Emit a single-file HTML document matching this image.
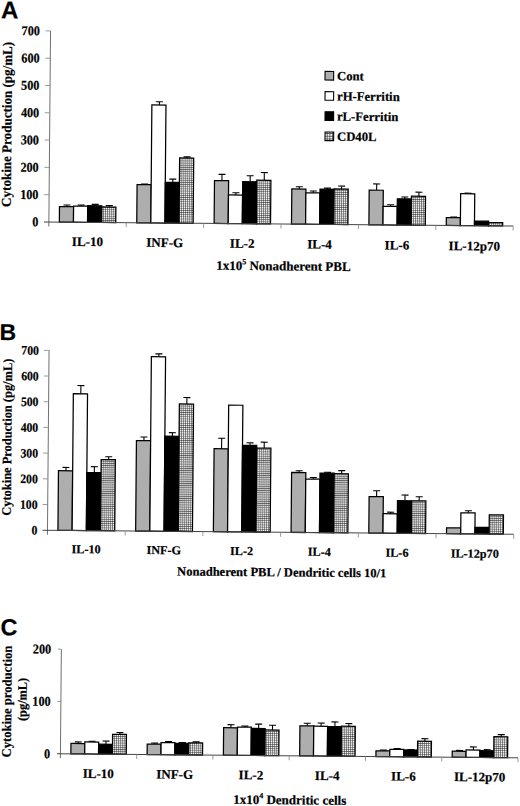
<!DOCTYPE html>
<html><head><meta charset="utf-8"><style>
html,body{margin:0;padding:0;background:#fff}
svg{display:block}
text{font-family:"Liberation Serif",serif;font-weight:bold;fill:#000;stroke:#000;stroke-width:0.2px}
.pl{font-family:"Liberation Sans",sans-serif;font-weight:bold}
</style></head><body>
<svg width="520" height="806" viewBox="0 0 520 806">
<defs><pattern id="hatch" width="1.95" height="2.15" patternUnits="userSpaceOnUse"><rect width="1.95" height="2.15" fill="#f6f6f6"/><path d="M0 0.3H1.95M0.3 0V2.15" stroke="#222" stroke-width="0.55"/></pattern><pattern id="hatchL" x="0.4" y="0.2" width="2.7" height="2.7" patternUnits="userSpaceOnUse"><rect width="2.7" height="2.7" fill="#fafafa"/><path d="M0 0.4H2.7M0.4 0V2.7" stroke="#222" stroke-width="0.7"/></pattern></defs>
<rect width="520" height="806" fill="#fff"/>
<g transform="rotate(0.5 260 403)">
<path d="M65.24 208.29V206.65M61.74 206.65H68.74" stroke="#000" stroke-width="1.1" fill="none"/>
<rect x="57.79" y="208.29" width="14.10" height="15.56" fill="#aeaeae" stroke="#000" stroke-width="1.25"/>
<path d="M79.34 207.74V206.65M75.84 206.65H82.84" stroke="#000" stroke-width="1.1" fill="none"/>
<rect x="71.89" y="207.74" width="14.10" height="16.11" fill="#fff" stroke="#000" stroke-width="1.25"/>
<path d="M93.44 207.20V205.83M89.94 205.83H96.94" stroke="#000" stroke-width="1.1" fill="none"/>
<rect x="85.99" y="207.20" width="14.10" height="16.65" fill="#000" stroke="#000" stroke-width="1.25"/>
<path d="M107.54 208.29V206.92M104.04 206.92H111.04" stroke="#000" stroke-width="1.1" fill="none"/>
<rect x="100.09" y="208.29" width="14.10" height="15.56" fill="url(#hatch)" stroke="#000" stroke-width="1.25"/>
<path d="M142.63 185.63V185.08M139.13 185.08H146.13" stroke="#000" stroke-width="1.1" fill="none"/>
<rect x="135.18" y="185.63" width="14.10" height="38.22" fill="#aeaeae" stroke="#000" stroke-width="1.25"/>
<path d="M156.73 105.91V102.64M153.23 102.64H160.23" stroke="#000" stroke-width="1.1" fill="none"/>
<rect x="149.28" y="105.91" width="14.10" height="117.94" fill="#fff" stroke="#000" stroke-width="1.25"/>
<path d="M170.83 183.17V179.90M167.33 179.90H174.33" stroke="#000" stroke-width="1.1" fill="none"/>
<rect x="163.38" y="183.17" width="14.10" height="40.68" fill="#000" stroke="#000" stroke-width="1.25"/>
<path d="M184.93 158.60V157.51M181.43 157.51H188.43" stroke="#000" stroke-width="1.1" fill="none"/>
<rect x="177.48" y="158.60" width="14.10" height="65.25" fill="url(#hatch)" stroke="#000" stroke-width="1.25"/>
<path d="M220.01 180.99V174.71M216.51 174.71H223.51" stroke="#000" stroke-width="1.1" fill="none"/>
<rect x="212.56" y="180.99" width="14.10" height="42.86" fill="#aeaeae" stroke="#000" stroke-width="1.25"/>
<path d="M234.11 195.19V193.00M230.61 193.00H237.61" stroke="#000" stroke-width="1.1" fill="none"/>
<rect x="226.66" y="195.19" width="14.10" height="28.66" fill="#fff" stroke="#000" stroke-width="1.25"/>
<path d="M248.21 181.81V175.80M244.71 175.80H251.71" stroke="#000" stroke-width="1.1" fill="none"/>
<rect x="240.76" y="181.81" width="14.10" height="42.04" fill="#000" stroke="#000" stroke-width="1.25"/>
<path d="M262.31 180.17V172.53M258.81 172.53H265.81" stroke="#000" stroke-width="1.1" fill="none"/>
<rect x="254.86" y="180.17" width="14.10" height="43.68" fill="url(#hatch)" stroke="#000" stroke-width="1.25"/>
<path d="M297.39 188.63V186.45M293.89 186.45H300.89" stroke="#000" stroke-width="1.1" fill="none"/>
<rect x="289.94" y="188.63" width="14.10" height="35.22" fill="#aeaeae" stroke="#000" stroke-width="1.25"/>
<path d="M311.49 192.45V190.54M307.99 190.54H314.99" stroke="#000" stroke-width="1.1" fill="none"/>
<rect x="304.04" y="192.45" width="14.10" height="31.39" fill="#fff" stroke="#000" stroke-width="1.25"/>
<path d="M325.59 188.63V187.54M322.09 187.54H329.09" stroke="#000" stroke-width="1.1" fill="none"/>
<rect x="318.14" y="188.63" width="14.10" height="35.22" fill="#000" stroke="#000" stroke-width="1.25"/>
<path d="M339.69 188.36V185.36M336.19 185.36H343.19" stroke="#000" stroke-width="1.1" fill="none"/>
<rect x="332.24" y="188.36" width="14.10" height="35.49" fill="url(#hatch)" stroke="#000" stroke-width="1.25"/>
<path d="M374.78 189.18V182.90M371.28 182.90H378.28" stroke="#000" stroke-width="1.1" fill="none"/>
<rect x="367.33" y="189.18" width="14.10" height="34.67" fill="#aeaeae" stroke="#000" stroke-width="1.25"/>
<path d="M388.88 205.29V203.65M385.38 203.65H392.38" stroke="#000" stroke-width="1.1" fill="none"/>
<rect x="381.43" y="205.29" width="14.10" height="18.56" fill="#fff" stroke="#000" stroke-width="1.25"/>
<path d="M402.98 197.64V195.73M399.48 195.73H406.48" stroke="#000" stroke-width="1.1" fill="none"/>
<rect x="395.53" y="197.64" width="14.10" height="26.21" fill="#000" stroke="#000" stroke-width="1.25"/>
<path d="M417.08 194.91V190.82M413.58 190.82H420.58" stroke="#000" stroke-width="1.1" fill="none"/>
<rect x="409.63" y="194.91" width="14.10" height="28.94" fill="url(#hatch)" stroke="#000" stroke-width="1.25"/>
<path d="M452.16 215.93V215.39M448.66 215.39H455.66" stroke="#000" stroke-width="1.1" fill="none"/>
<rect x="444.71" y="215.93" width="14.10" height="7.92" fill="#aeaeae" stroke="#000" stroke-width="1.25"/>
<path d="M466.26 191.91V191.36M462.76 191.36H469.76" stroke="#000" stroke-width="1.1" fill="none"/>
<rect x="458.81" y="191.91" width="14.10" height="31.94" fill="#fff" stroke="#000" stroke-width="1.25"/>
<rect x="472.91" y="219.21" width="14.10" height="4.64" fill="#000" stroke="#000" stroke-width="1.25"/>
<rect x="487.01" y="220.57" width="14.10" height="3.28" fill="url(#hatch)" stroke="#000" stroke-width="1.25"/>
<path d="M47.30 32.75V228.35" stroke="#707070" stroke-width="1" fill="none"/>
<path d="M42.30 223.85H511.60" stroke="#444" stroke-width="1" fill="none"/>
<text x="36.70" y="228.35" text-anchor="end" font-size="13.5" textLength="6.10" lengthAdjust="spacingAndGlyphs">0</text>
<text x="36.70" y="201.05" text-anchor="end" font-size="13.5" textLength="18.30" lengthAdjust="spacingAndGlyphs">100</text>
<text x="36.70" y="173.75" text-anchor="end" font-size="13.5" textLength="18.30" lengthAdjust="spacingAndGlyphs">200</text>
<text x="36.70" y="146.45" text-anchor="end" font-size="13.5" textLength="18.30" lengthAdjust="spacingAndGlyphs">300</text>
<text x="36.70" y="119.15" text-anchor="end" font-size="13.5" textLength="18.30" lengthAdjust="spacingAndGlyphs">400</text>
<text x="36.70" y="91.85" text-anchor="end" font-size="13.5" textLength="18.30" lengthAdjust="spacingAndGlyphs">500</text>
<text x="36.70" y="64.55" text-anchor="end" font-size="13.5" textLength="18.30" lengthAdjust="spacingAndGlyphs">600</text>
<text x="36.70" y="37.25" text-anchor="end" font-size="13.5" textLength="18.30" lengthAdjust="spacingAndGlyphs">700</text>
<path d="M42.30 196.55H47.30M42.30 169.25H47.30M42.30 141.95H47.30M42.30 114.65H47.30M42.30 87.35H47.30M42.30 60.05H47.30M42.30 32.75H47.30M124.68 223.85V228.35M202.07 223.85V228.35M279.45 223.85V228.35M356.83 223.85V228.35M434.22 223.85V228.35M511.60 223.85V228.35" stroke="#8a8a8a" stroke-width="0.85" fill="none"/>
<text x="85.99" y="247.55" text-anchor="middle" font-size="13">IL-10</text>
<text x="163.38" y="247.75" text-anchor="middle" font-size="13">INF-G</text>
<text x="240.76" y="247.95" text-anchor="middle" font-size="13">IL-2</text>
<text x="318.14" y="248.15" text-anchor="middle" font-size="13">IL-4</text>
<text x="395.53" y="248.35" text-anchor="middle" font-size="13">IL-6</text>
<text x="472.91" y="248.55" text-anchor="middle" font-size="13">IL-12p70</text>
<path d="M66.56 472.48V469.13M63.06 469.13H70.06" stroke="#000" stroke-width="1.1" fill="none"/>
<rect x="59.06" y="472.48" width="14.20" height="59.62" fill="#aeaeae" stroke="#000" stroke-width="1.25"/>
<path d="M80.76 395.38V387.15M77.26 387.15H84.26" stroke="#000" stroke-width="1.1" fill="none"/>
<rect x="73.26" y="395.38" width="14.20" height="136.72" fill="#fff" stroke="#000" stroke-width="1.25"/>
<path d="M94.96 474.02V468.11M91.46 468.11H98.46" stroke="#000" stroke-width="1.1" fill="none"/>
<rect x="87.46" y="474.02" width="14.20" height="58.08" fill="#000" stroke="#000" stroke-width="1.25"/>
<path d="M109.16 460.91V458.08M105.66 458.08H112.66" stroke="#000" stroke-width="1.1" fill="none"/>
<rect x="101.66" y="460.91" width="14.20" height="71.19" fill="url(#hatch)" stroke="#000" stroke-width="1.25"/>
<path d="M144.27 441.64V438.04M140.77 438.04H147.77" stroke="#000" stroke-width="1.1" fill="none"/>
<rect x="136.77" y="441.64" width="14.20" height="90.46" fill="#aeaeae" stroke="#000" stroke-width="1.25"/>
<path d="M158.47 357.60V354.77M154.97 354.77H161.97" stroke="#000" stroke-width="1.1" fill="none"/>
<rect x="150.97" y="357.60" width="14.20" height="174.50" fill="#fff" stroke="#000" stroke-width="1.25"/>
<path d="M172.67 437.01V433.41M169.17 433.41H176.17" stroke="#000" stroke-width="1.1" fill="none"/>
<rect x="165.17" y="437.01" width="14.20" height="95.09" fill="#000" stroke="#000" stroke-width="1.25"/>
<path d="M186.87 404.63V398.20M183.37 398.20H190.37" stroke="#000" stroke-width="1.1" fill="none"/>
<rect x="179.37" y="404.63" width="14.20" height="127.47" fill="url(#hatch)" stroke="#000" stroke-width="1.25"/>
<path d="M221.99 449.09V438.55M218.49 438.55H225.49" stroke="#000" stroke-width="1.1" fill="none"/>
<rect x="214.49" y="449.09" width="14.20" height="83.01" fill="#aeaeae" stroke="#000" stroke-width="1.25"/>
<rect x="228.69" y="405.40" width="14.20" height="126.70" fill="#fff" stroke="#000" stroke-width="1.25"/>
<path d="M250.39 445.49V442.92M246.89 442.92H253.89" stroke="#000" stroke-width="1.1" fill="none"/>
<rect x="242.89" y="445.49" width="14.20" height="86.61" fill="#000" stroke="#000" stroke-width="1.25"/>
<path d="M264.59 448.06V442.15M261.09 442.15H268.09" stroke="#000" stroke-width="1.1" fill="none"/>
<rect x="257.09" y="448.06" width="14.20" height="84.04" fill="url(#hatch)" stroke="#000" stroke-width="1.25"/>
<path d="M299.71 472.22V470.42M296.21 470.42H303.21" stroke="#000" stroke-width="1.1" fill="none"/>
<rect x="292.21" y="472.22" width="14.20" height="59.88" fill="#aeaeae" stroke="#000" stroke-width="1.25"/>
<path d="M313.91 478.64V477.10M310.41 477.10H317.41" stroke="#000" stroke-width="1.1" fill="none"/>
<rect x="306.41" y="478.64" width="14.20" height="53.46" fill="#fff" stroke="#000" stroke-width="1.25"/>
<path d="M328.11 472.48V471.71M324.61 471.71H331.61" stroke="#000" stroke-width="1.1" fill="none"/>
<rect x="320.61" y="472.48" width="14.20" height="59.62" fill="#000" stroke="#000" stroke-width="1.25"/>
<path d="M342.31 472.99V469.91M338.81 469.91H345.81" stroke="#000" stroke-width="1.1" fill="none"/>
<rect x="334.81" y="472.99" width="14.20" height="59.11" fill="url(#hatch)" stroke="#000" stroke-width="1.25"/>
<path d="M377.42 495.61V489.70M373.92 489.70H380.92" stroke="#000" stroke-width="1.1" fill="none"/>
<rect x="369.92" y="495.61" width="14.20" height="36.49" fill="#aeaeae" stroke="#000" stroke-width="1.25"/>
<path d="M391.62 512.57V511.03M388.12 511.03H395.12" stroke="#000" stroke-width="1.1" fill="none"/>
<rect x="384.12" y="512.57" width="14.20" height="19.53" fill="#fff" stroke="#000" stroke-width="1.25"/>
<path d="M405.82 499.46V493.81M402.32 493.81H409.32" stroke="#000" stroke-width="1.1" fill="none"/>
<rect x="398.32" y="499.46" width="14.20" height="32.64" fill="#000" stroke="#000" stroke-width="1.25"/>
<path d="M420.02 499.46V495.35M416.52 495.35H423.52" stroke="#000" stroke-width="1.1" fill="none"/>
<rect x="412.52" y="499.46" width="14.20" height="32.64" fill="url(#hatch)" stroke="#000" stroke-width="1.25"/>
<rect x="447.64" y="526.19" width="14.20" height="5.91" fill="#aeaeae" stroke="#000" stroke-width="1.25"/>
<path d="M469.34 511.03V508.97M465.84 508.97H472.84" stroke="#000" stroke-width="1.1" fill="none"/>
<rect x="461.84" y="511.03" width="14.20" height="21.07" fill="#fff" stroke="#000" stroke-width="1.25"/>
<rect x="476.04" y="525.42" width="14.20" height="6.68" fill="#000" stroke="#000" stroke-width="1.25"/>
<rect x="490.24" y="512.83" width="14.20" height="19.27" fill="url(#hatch)" stroke="#000" stroke-width="1.25"/>
<path d="M48.60 352.20V536.60" stroke="#707070" stroke-width="1" fill="none"/>
<path d="M43.60 532.10H514.90" stroke="#444" stroke-width="1" fill="none"/>
<text x="38.50" y="536.60" text-anchor="end" font-size="12.9" textLength="5.85" lengthAdjust="spacingAndGlyphs">0</text>
<text x="38.50" y="510.90" text-anchor="end" font-size="12.9" textLength="17.55" lengthAdjust="spacingAndGlyphs">100</text>
<text x="38.50" y="485.20" text-anchor="end" font-size="12.9" textLength="17.55" lengthAdjust="spacingAndGlyphs">200</text>
<text x="38.50" y="459.50" text-anchor="end" font-size="12.9" textLength="17.55" lengthAdjust="spacingAndGlyphs">300</text>
<text x="38.50" y="433.80" text-anchor="end" font-size="12.9" textLength="17.55" lengthAdjust="spacingAndGlyphs">400</text>
<text x="38.50" y="408.10" text-anchor="end" font-size="12.9" textLength="17.55" lengthAdjust="spacingAndGlyphs">500</text>
<text x="38.50" y="382.40" text-anchor="end" font-size="12.9" textLength="17.55" lengthAdjust="spacingAndGlyphs">600</text>
<text x="38.50" y="356.70" text-anchor="end" font-size="12.9" textLength="17.55" lengthAdjust="spacingAndGlyphs">700</text>
<path d="M43.60 506.40H48.60M43.60 480.70H48.60M43.60 455.00H48.60M43.60 429.30H48.60M43.60 403.60H48.60M43.60 377.90H48.60M43.60 352.20H48.60M126.32 532.10V536.60M204.03 532.10V536.60M281.75 532.10V536.60M359.47 532.10V536.60M437.18 532.10V536.60M514.90 532.10V536.60" stroke="#8a8a8a" stroke-width="0.85" fill="none"/>
<text x="87.46" y="554.80" text-anchor="middle" font-size="12.2">IL-10</text>
<text x="165.17" y="555.00" text-anchor="middle" font-size="12.2">INF-G</text>
<text x="242.89" y="555.20" text-anchor="middle" font-size="12.2">IL-2</text>
<text x="320.61" y="555.40" text-anchor="middle" font-size="12.2">IL-4</text>
<text x="398.32" y="555.60" text-anchor="middle" font-size="12.2">IL-6</text>
<text x="476.04" y="555.80" text-anchor="middle" font-size="12.2">IL-12p70</text>
<path d="M81.26 745.04V743.47M77.76 743.47H84.76" stroke="#000" stroke-width="1.1" fill="none"/>
<rect x="73.93" y="745.04" width="13.85" height="10.46" fill="#aeaeae" stroke="#000" stroke-width="1.25"/>
<path d="M95.11 743.47V742.69M91.61 742.69H98.61" stroke="#000" stroke-width="1.1" fill="none"/>
<rect x="87.78" y="743.47" width="13.85" height="12.03" fill="#fff" stroke="#000" stroke-width="1.25"/>
<path d="M108.96 745.56V742.42M105.46 742.42H112.46" stroke="#000" stroke-width="1.1" fill="none"/>
<rect x="101.63" y="745.56" width="13.85" height="9.94" fill="#000" stroke="#000" stroke-width="1.25"/>
<path d="M122.81 735.63V733.80M119.31 733.80H126.31" stroke="#000" stroke-width="1.1" fill="none"/>
<rect x="115.48" y="735.63" width="13.85" height="19.87" fill="url(#hatch)" stroke="#000" stroke-width="1.25"/>
<path d="M157.53 745.04V743.99M154.03 743.99H161.03" stroke="#000" stroke-width="1.1" fill="none"/>
<rect x="150.20" y="745.04" width="13.85" height="10.46" fill="#aeaeae" stroke="#000" stroke-width="1.25"/>
<path d="M171.38 743.47V742.42M167.88 742.42H174.88" stroke="#000" stroke-width="1.1" fill="none"/>
<rect x="164.05" y="743.47" width="13.85" height="12.03" fill="#fff" stroke="#000" stroke-width="1.25"/>
<path d="M185.22 743.99V743.21M181.72 743.21H188.72" stroke="#000" stroke-width="1.1" fill="none"/>
<rect x="177.90" y="743.99" width="13.85" height="11.51" fill="#000" stroke="#000" stroke-width="1.25"/>
<path d="M199.08 743.47V742.42M195.58 742.42H202.58" stroke="#000" stroke-width="1.1" fill="none"/>
<rect x="191.75" y="743.47" width="13.85" height="12.03" fill="url(#hatch)" stroke="#000" stroke-width="1.25"/>
<path d="M233.79 727.99V724.90M230.29 724.90H237.29" stroke="#000" stroke-width="1.1" fill="none"/>
<rect x="226.47" y="727.99" width="13.85" height="27.51" fill="#aeaeae" stroke="#000" stroke-width="1.25"/>
<path d="M247.64 727.26V726.21M244.14 726.21H251.14" stroke="#000" stroke-width="1.1" fill="none"/>
<rect x="240.32" y="727.26" width="13.85" height="28.24" fill="#fff" stroke="#000" stroke-width="1.25"/>
<path d="M261.49 728.51V724.12M257.99 724.12H264.99" stroke="#000" stroke-width="1.1" fill="none"/>
<rect x="254.17" y="728.51" width="13.85" height="26.99" fill="#000" stroke="#000" stroke-width="1.25"/>
<path d="M275.34 729.87V725.17M271.84 725.17H278.84" stroke="#000" stroke-width="1.1" fill="none"/>
<rect x="268.02" y="729.87" width="13.85" height="25.63" fill="url(#hatch)" stroke="#000" stroke-width="1.25"/>
<path d="M310.06 725.43V722.81M306.56 722.81H313.56" stroke="#000" stroke-width="1.1" fill="none"/>
<rect x="302.73" y="725.43" width="13.85" height="30.07" fill="#aeaeae" stroke="#000" stroke-width="1.25"/>
<path d="M323.91 725.69V722.55M320.41 722.55H327.41" stroke="#000" stroke-width="1.1" fill="none"/>
<rect x="316.58" y="725.69" width="13.85" height="29.81" fill="#fff" stroke="#000" stroke-width="1.25"/>
<path d="M337.76 725.95V721.24M334.26 721.24H341.26" stroke="#000" stroke-width="1.1" fill="none"/>
<rect x="330.43" y="725.95" width="13.85" height="29.55" fill="#000" stroke="#000" stroke-width="1.25"/>
<path d="M351.61 725.43V722.81M348.11 722.81H355.11" stroke="#000" stroke-width="1.1" fill="none"/>
<rect x="344.28" y="725.43" width="13.85" height="30.07" fill="url(#hatch)" stroke="#000" stroke-width="1.25"/>
<path d="M386.32 749.75V748.96M382.82 748.96H389.82" stroke="#000" stroke-width="1.1" fill="none"/>
<rect x="379.00" y="749.75" width="13.85" height="5.75" fill="#aeaeae" stroke="#000" stroke-width="1.25"/>
<path d="M400.18 748.18V747.39M396.68 747.39H403.68" stroke="#000" stroke-width="1.1" fill="none"/>
<rect x="392.85" y="748.18" width="13.85" height="7.32" fill="#fff" stroke="#000" stroke-width="1.25"/>
<path d="M414.02 748.70V748.18M410.52 748.18H417.52" stroke="#000" stroke-width="1.1" fill="none"/>
<rect x="406.70" y="748.70" width="13.85" height="6.80" fill="#000" stroke="#000" stroke-width="1.25"/>
<path d="M427.88 739.81V737.20M424.38 737.20H431.38" stroke="#000" stroke-width="1.1" fill="none"/>
<rect x="420.55" y="739.81" width="13.85" height="15.69" fill="url(#hatch)" stroke="#000" stroke-width="1.25"/>
<path d="M462.59 749.49V748.70M459.09 748.70H466.09" stroke="#000" stroke-width="1.1" fill="none"/>
<rect x="455.27" y="749.49" width="13.85" height="6.01" fill="#aeaeae" stroke="#000" stroke-width="1.25"/>
<path d="M476.44 748.18V745.04M472.94 745.04H479.94" stroke="#000" stroke-width="1.1" fill="none"/>
<rect x="469.12" y="748.18" width="13.85" height="7.32" fill="#fff" stroke="#000" stroke-width="1.25"/>
<path d="M490.29 748.70V747.65M486.79 747.65H493.79" stroke="#000" stroke-width="1.1" fill="none"/>
<rect x="482.97" y="748.70" width="13.85" height="6.80" fill="#000" stroke="#000" stroke-width="1.25"/>
<path d="M504.14 734.58V732.49M500.64 732.49H507.64" stroke="#000" stroke-width="1.1" fill="none"/>
<rect x="496.82" y="734.58" width="13.85" height="20.92" fill="url(#hatch)" stroke="#000" stroke-width="1.25"/>
<path d="M63.50 650.90V760.00" stroke="#707070" stroke-width="1" fill="none"/>
<path d="M60.00 755.50H521.10" stroke="#444" stroke-width="1" fill="none"/>
<text x="53.30" y="760.00" text-anchor="end" font-size="13.5" textLength="6.10" lengthAdjust="spacingAndGlyphs">0</text>
<text x="53.30" y="707.70" text-anchor="end" font-size="13.5" textLength="18.30" lengthAdjust="spacingAndGlyphs">100</text>
<text x="53.30" y="655.40" text-anchor="end" font-size="13.5" textLength="18.30" lengthAdjust="spacingAndGlyphs">200</text>
<path d="M60.00 703.20H63.50M60.00 650.90H63.50M139.77 755.50V760.00M216.03 755.50V760.00M292.30 755.50V760.00M368.57 755.50V760.00M444.83 755.50V760.00M521.10 755.50V760.00" stroke="#8a8a8a" stroke-width="0.85" fill="none"/>
<text x="101.63" y="779.40" text-anchor="middle" font-size="13">IL-10</text>
<text x="177.90" y="779.40" text-anchor="middle" font-size="13">INF-G</text>
<text x="254.17" y="779.40" text-anchor="middle" font-size="13">IL-2</text>
<text x="330.43" y="779.40" text-anchor="middle" font-size="13">IL-4</text>
<text x="406.70" y="779.40" text-anchor="middle" font-size="13">IL-6</text>
<text x="482.97" y="779.40" text-anchor="middle" font-size="13">IL-12p70</text>
<text class="pl" x="-2.35" y="20.57" font-size="24">A</text>
<text class="pl" x="-1.14" y="342.28" font-size="23">B</text>
<text class="pl" x="2.64" y="637.55" font-size="23.4">C</text>
<text transform="translate(8.98 126.58) rotate(-90)" text-anchor="middle" font-size="13.6" textLength="165" lengthAdjust="spacingAndGlyphs">Cytokine Production (pg/mL)</text>
<text transform="translate(11.71 439.37) rotate(-90)" text-anchor="middle" font-size="13" textLength="157" lengthAdjust="spacingAndGlyphs">Cytokine Production (pg/mL)</text>
<text transform="translate(13.92 703.76) rotate(-90)" text-anchor="middle" font-size="13.2" textLength="111.8" lengthAdjust="spacingAndGlyphs">Cytokine production</text>
<text transform="translate(29.20 701.43) rotate(-90)" text-anchor="middle" font-size="13" textLength="43.2" lengthAdjust="spacingAndGlyphs">(pg/mL)</text>
<text x="282.24" y="270.20" text-anchor="middle" font-size="13.0" >1x10<tspan dy="-5.8" font-size="8">5</tspan><tspan dy="5.8"> Nonadherent PBL</tspan></text>
<text x="283.21" y="576.20" text-anchor="middle" font-size="12.55" >Nonadherent PBL / Dendritic cells 10/1</text>
<text x="293.20" y="804.03" text-anchor="middle" font-size="13.0" >1x10<tspan dy="-5.8" font-size="8">4</tspan><tspan dy="5.8"> Dendritic cells</tspan></text>
<rect x="322.18" y="70.85" width="8.6" height="8.6" fill="#aeaeae" stroke="#000" stroke-width="1.1"/>
<text x="334.18" y="79.54" font-size="12.7">Cont</text>
<rect x="322.36" y="91.04" width="8.6" height="8.6" fill="#fff" stroke="#000" stroke-width="1.1"/>
<text x="334.36" y="99.74" font-size="12.7">rH-Ferritin</text>
<rect x="322.53" y="111.24" width="8.6" height="8.6" fill="#000" stroke="#000" stroke-width="1.1"/>
<text x="334.53" y="119.94" font-size="12.7">rL-Ferritin</text>
<rect x="322.71" y="131.44" width="8.6" height="8.6" fill="url(#hatchL)" stroke="#000" stroke-width="1.1"/>
<text x="334.71" y="140.14" font-size="12.7">CD40L</text>
</g></svg></body></html>
